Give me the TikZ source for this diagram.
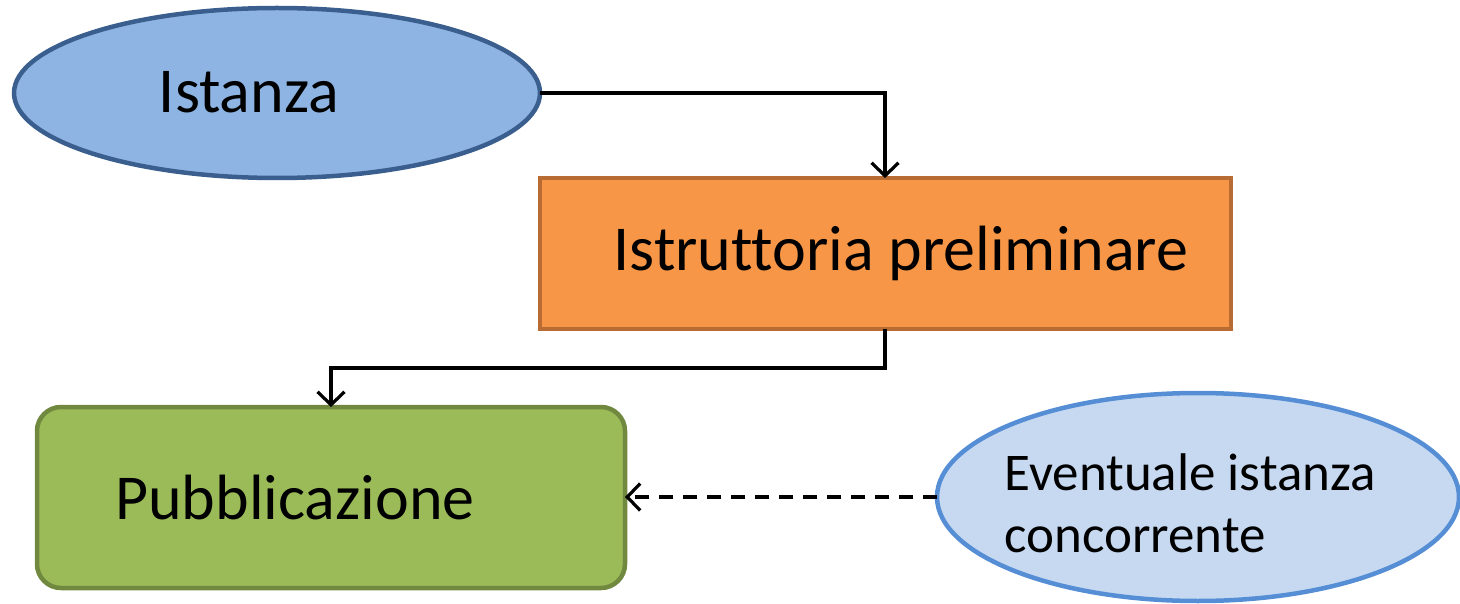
\documentclass[tikz,border=0pt]{standalone}
\usepackage{fontspec}
\setmainfont{Carlito}[Ligatures=NoCommon]
\usetikzlibrary{arrows.meta,shapes.geometric}
\definecolor{blueFill}{HTML}{8EB4E3}
\definecolor{blueLine}{HTML}{3A5F8E}
\definecolor{orangeFill}{HTML}{F79646}
\definecolor{orangeLine}{HTML}{B86C33}
\definecolor{greenFill}{HTML}{9BBB59}
\definecolor{greenLine}{HTML}{71893F}
\definecolor{lblueFill}{HTML}{C6D9F1}
\definecolor{lblueLine}{HTML}{558ED5}
\tikzset{
  conn/.style={line width=3.2pt, -{Straight Barb[length=13pt,width=27pt,line width=3.2pt]}},
  bigtext/.style={font=\fontsize{64}{70}\selectfont},
  smalltext/.style={font=\fontsize{53}{62}\selectfont, align=left},
}
\begin{document}
\begin{tikzpicture}[x=1pt,y=-1pt]
\useasboundingbox (0,0) rectangle (1460,604);
% Istanza
\draw[blueLine, fill=blueFill, line width=4.5pt] (277,93) ellipse [x radius=263, y radius=85];
\node[bigtext, anchor=base] (ist) at (249,113) {Istanza};
\coordinate (istR) at (540,93);
% Istruttoria
\draw[orangeLine, fill=orangeFill, line width=4.5pt] (540,178) rectangle (1231,329);
\node[bigtext, anchor=base] (istr) at (901,271) {Istruttoria preliminare};
\coordinate (istrT) at (885,178);
\coordinate (istrB) at (885,329);
% Pubblicazione
\draw[greenLine, fill=greenFill, line width=4.5pt, rounded corners=24pt] (37,407) rectangle (625,588);
\node[bigtext, anchor=base] (pub) at (295,519) {Pubblicazione};
\coordinate (pubT) at (331,407);
\coordinate (pubR) at (625,497);
% Eventuale
\draw[lblueLine, fill=lblueFill, line width=4.5pt] (1198,497) ellipse [x radius=261, y radius=104];
\node[smalltext, anchor=base west] (ev) at (1001,552) {Eventuale istanza\\concorrente};
\coordinate (evL) at (937,497);
% connectors
\draw[conn] (istR) -- (885,93) -- (istrT);
\draw[conn] (istrB) -- (885,368) -- (331,368) -- (pubT);
\draw[conn, dash pattern=on 14pt off 10pt] (evL) -- (pubR);
\end{tikzpicture}
\end{document}
